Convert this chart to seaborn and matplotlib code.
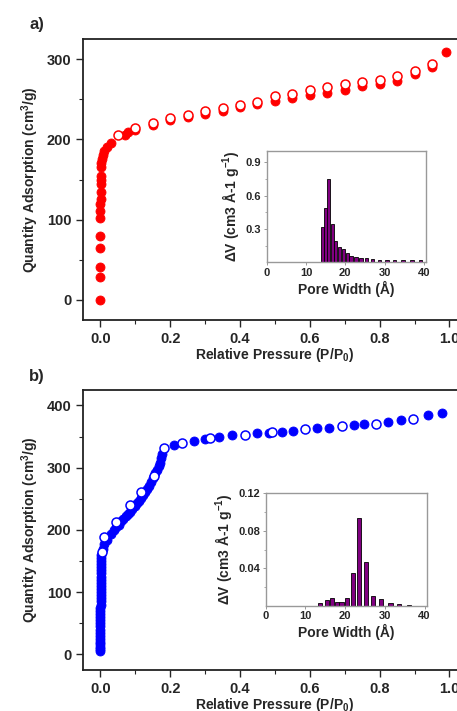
import numpy as np
import pandas as pd
import seaborn as sns
import matplotlib as mpl
mpl.use('Agg')
import matplotlib.pyplot as plt

# ---- panel a: isotherm (P/P0, cm3/g) ----
a_ads_p = [0.0, 0.0, 0.0, 0.0, 0.0, 0.0, 0.0, 0.0, 0.0005, 0.0008, 0.001, 0.0012, 0.0015,
           0.002, 0.003, 0.004, 0.006, 0.01, 0.02, 0.03, 0.07, 0.08, 0.1, 0.15, 0.2, 0.25,
           0.3, 0.35, 0.4, 0.45, 0.5, 0.55, 0.6, 0.65, 0.7, 0.75, 0.8, 0.85, 0.9, 0.95, 0.99]
a_ads_v = [0, 29, 41, 65, 80, 102, 111, 120, 126, 135, 144, 149, 155,
           165, 170, 176, 181, 186, 191, 195, 206, 209, 212, 218, 224, 228,
           232, 236, 240, 244, 248, 251, 255, 258, 262, 266, 269, 273, 282, 290, 309]
a_des_p = [0.95, 0.9, 0.85, 0.8, 0.75, 0.7, 0.65, 0.6, 0.55, 0.5, 0.45, 0.4, 0.35,
           0.3, 0.25, 0.2, 0.15, 0.1, 0.05]
a_des_v = [294, 285, 278.5, 274, 271.5, 268.5, 265, 261, 257, 253.5, 246.5, 243, 239,
           235, 231, 226.5, 220, 214, 205]

# ---- panel a inset: pore size distribution ----
a_pore_w = [14.25, 15.1, 15.8, 16.8, 17.6, 18.5, 19.5, 20.5, 21.5, 22.7, 24.0, 25.4,
            27.0, 28.7, 30.6, 32.6, 34.7, 37.0, 39.2]
a_pore_dv = [0.315, 0.486, 0.75, 0.342, 0.195, 0.14, 0.117, 0.08, 0.057, 0.045, 0.04,
             0.04, 0.03, 0.025, 0.02, 0.02, 0.02, 0.02, 0.025]

# ---- panel b: isotherm ----
b_ads_p = [0.0, 0.0, 0.0, 0.0, 0.0, 0.0, 0.0, 0.0, 0.0, 0.0, 0.0, 0.0, 0.0, 0.0, 0.0, 0.0,
           0.001, 0.001, 0.001, 0.001, 0.001, 0.001, 0.001, 0.001, 0.001, 0.001, 0.001,
           0.002, 0.002, 0.002, 0.002, 0.002, 0.002,
           0.006, 0.01, 0.019, 0.03, 0.038, 0.045, 0.052, 0.06, 0.066, 0.072, 0.078,
           0.084, 0.09, 0.098, 0.105, 0.11, 0.115, 0.122, 0.128, 0.133, 0.138, 0.145,
           0.15, 0.157, 0.162, 0.167, 0.17, 0.174, 0.177, 0.21, 0.267, 0.30, 0.341,
           0.377, 0.449, 0.484, 0.519, 0.553, 0.621, 0.656, 0.726, 0.755, 0.824, 0.86,
           0.94, 0.979]
b_ads_v = [5, 8, 12, 16, 20, 25, 30, 35, 40, 45, 50, 55, 60, 65, 70, 75,
           80, 85, 90, 95, 100, 105, 110, 115, 120, 125, 130,
           135, 140, 145, 150, 155, 160,
           170, 178, 184, 194, 200, 204, 208, 214, 218, 222, 226,
           229, 234, 238, 243, 247, 251, 256, 261, 265, 270, 277,
           284, 292, 297, 303, 308, 315, 322, 336, 343, 346, 349.5,
           351.8, 355.5, 355.8, 357.7, 359.3, 363, 364, 368.4, 370, 373.8, 376,
           384.5, 388.2]
b_des_p = [0.895, 0.79, 0.692, 0.585, 0.492, 0.413, 0.313, 0.233, 0.182, 0.153, 0.117,
           0.084, 0.046, 0.0115, 0.0043]
b_des_v = [378.6, 370.6, 366.8, 361.4, 356.6, 353, 348, 340, 331, 286, 261,
           240, 213, 189, 164]

# ---- panel b inset ----
b_pore_w = [13.7, 15.5, 16.7, 17.9, 19.1, 20.4, 21.9, 23.5, 25.2, 27.1, 29.1, 31.4,
            33.6, 36.0]
b_pore_dv = [0.0025, 0.0057, 0.0085, 0.0039, 0.0043, 0.0085, 0.0345, 0.094, 0.0466,
             0.0107, 0.0068, 0.0028, 0.0018, 0.001]

sns.set_style('ticks')
plt.rcParams['font.family'] = ['Liberation Sans', 'DejaVu Sans']
plt.rcParams['font.weight'] = 'bold'
plt.rcParams['axes.labelweight'] = 'bold'
plt.rcParams['mathtext.fontset'] = 'custom'
plt.rcParams['mathtext.rm'] = 'Liberation Sans:bold'
plt.rcParams['mathtext.bf'] = 'Liberation Sans:bold'
plt.rcParams['mathtext.it'] = 'Liberation Sans:bold'

fig = plt.figure(figsize=(4.57, 7.11), dpi=100)


def iso_panel(rect, ads_p, ads_v, des_p, des_v, color, ylim, yticks, yminor):
    ax = fig.add_axes(rect)
    sns.scatterplot(x=ads_p, y=ads_v, ax=ax, color=color, edgecolor=color,
                    linewidth=0.6, s=42, zorder=3)
    sns.scatterplot(x=des_p, y=des_v, ax=ax, color='white', edgecolor=color,
                    linewidth=1.1, s=42, zorder=4)
    ax.set_xlim(-0.05, 1.05)
    ax.set_ylim(*ylim)
    ax.set_xticks([0.0, 0.2, 0.4, 0.6, 0.8, 1.0])
    ax.set_xticks([0.1, 0.3, 0.5, 0.7, 0.9], minor=True)
    ax.set_yticks(yticks)
    ax.set_yticks(yminor, minor=True)
    ax.set_xticklabels(['0.0', '0.2', '0.4', '0.6', '0.8', '1.0'])
    ax.set_yticklabels([str(t) for t in yticks])
    ax.tick_params(which='major', direction='out', length=5, width=1, labelsize=10.5)
    ax.tick_params(which='minor', direction='out', length=3, width=0.8)
    for sp in ax.spines.values():
        sp.set_linewidth(1.3)
        sp.set_color('#222222')
    ax.set_xlabel('Relative Pressure (P/P$_0$)', fontsize=10, labelpad=0)
    ax.set_ylabel('Quantity Adsorption (cm$^3$/g)', fontsize=10, labelpad=4)
    return ax


def pore_inset(rect, widths, dv, bar_w, ylim, yticks, yminor, ylabels):
    ax = fig.add_axes(rect)
    bw = bar_w / np.min(np.diff(np.unique(widths)))
    sns.barplot(x=widths, y=dv, ax=ax, native_scale=True, color='#800080',
                saturation=1, edgecolor='black', linewidth=0.6, width=bw)
    ax.set_xlim(0, 40.5)
    ax.set_ylim(*ylim)
    ax.set_xticks([0, 10, 20, 30, 40])
    ax.set_xticklabels(['0', '10', '20', '30', '40'])
    ax.set_yticks(yticks)
    ax.set_yticks(yminor, minor=True)
    ax.set_yticklabels(ylabels)
    ax.tick_params(which='major', direction='out', length=2, width=0.6,
                   labelsize=8, color='#888888', pad=2)
    ax.tick_params(which='minor', direction='out', length=1.5, width=0.5,
                   color='#888888')
    for sp in ax.spines.values():
        sp.set_linewidth(1.0)
        sp.set_color('#999999')
    ax.set_xlabel('Pore Width (Å)', fontsize=10, labelpad=2)
    ax.set_ylabel('ΔV (cm3 Å-1 g$^{-1}$)', fontsize=10, labelpad=3)
    return ax


iso_panel([0.1816, 0.550, 0.840, 0.395], a_ads_p, a_ads_v, a_des_p, a_des_v,
          '#ff0000', (-25, 325), [0, 100, 200, 300], [50, 150, 250])
pore_inset([0.5836, 0.631, 0.348, 0.1565], a_pore_w, a_pore_dv, 0.85, (0, 1.0),
           [0.3, 0.6, 0.9], [0.15, 0.45, 0.75], ['0.3', '0.6', '0.9'])

iso_panel([0.1816, 0.0577, 0.840, 0.394], b_ads_p, b_ads_v, b_des_p, b_des_v,
          '#0000ff', (-25, 425), [0, 100, 200, 300, 400], [50, 150, 250, 350])
pore_inset([0.5814, 0.148, 0.352, 0.158], b_pore_w, b_pore_dv, 1.05, (0, 0.12),
           [0.04, 0.08, 0.12], [0.02, 0.06, 0.10], ['0.04', '0.08', '0.12'])

fig.text(37 / 457, 1 - 25 / 711, 'a)', fontsize=12, fontweight='bold',
         ha='center', va='center')
fig.text(37 / 457, 1 - 376 / 711, 'b)', fontsize=12, fontweight='bold',
         ha='center', va='center')

fig.savefig('out.png', dpi=100)
plt.close(fig)
